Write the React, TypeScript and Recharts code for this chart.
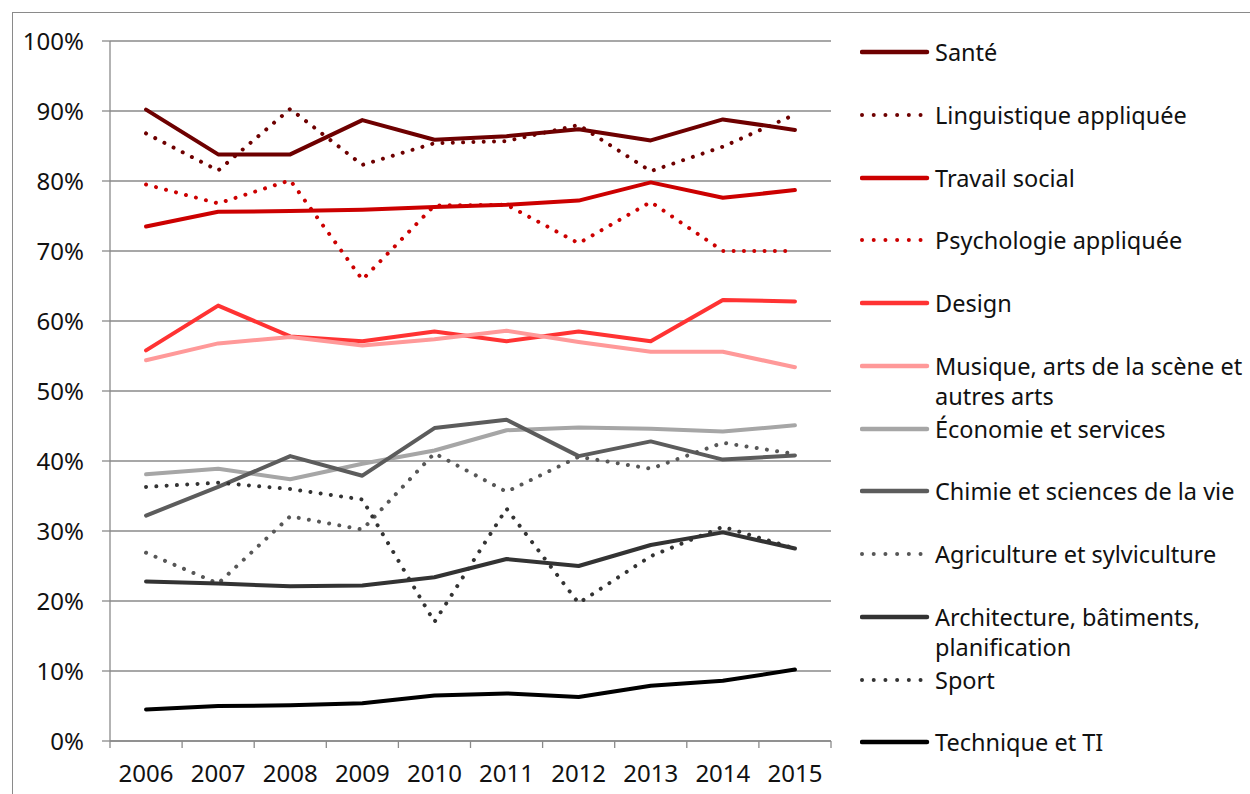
import { LineChart, Line, XAxis, YAxis, CartesianGrid } from 'recharts';

const years = ['2006', '2007', '2008', '2009', '2010', '2011', '2012', '2013', '2014', '2015'];
const yTicks = [0, 10, 20, 30, 40, 50, 60, 70, 80, 90, 100];

const sante = [90.2, 83.8, 83.8, 88.7, 85.9, 86.4, 87.4, 85.8, 88.8, 87.3];
const linguistique = [86.8, 81.5, 90.3, 82.3, 85.4, 85.7, 88.0, 81.4, 84.9, 89.5];
const travailSocial = [73.5, 75.6, 75.7, 75.9, 76.3, 76.6, 77.2, 79.8, 77.6, 78.7];
const psychologie = [79.5, 76.8, 80.1, 65.9, 76.5, 76.6, 71.1, 77.0, 70.0, 70.0];
const design = [55.8, 62.2, 57.8, 57.1, 58.5, 57.1, 58.5, 57.1, 63.0, 62.8];
const musique = [54.4, 56.8, 57.7, 56.5, 57.4, 58.6, 57.0, 55.6, 55.6, 53.4];
const economie = [38.1, 38.9, 37.4, 39.6, 41.5, 44.4, 44.8, 44.6, 44.2, 45.1];
const chimie = [32.2, 36.3, 40.7, 37.9, 44.7, 45.9, 40.7, 42.8, 40.2, 40.8];
const agriculture = [26.9, 22.5, 32.1, 30.2, 41.1, 35.6, 40.6, 38.9, 42.6, 41.0];
const architecture = [22.8, 22.5, 22.1, 22.2, 23.4, 26.0, 25.0, 28.0, 29.8, 27.5];
const sport = [36.3, 36.9, 36.0, 34.5, 17.0, 33.2, 19.7, 26.4, 30.6, 27.5];
const technique = [4.5, 5.0, 5.1, 5.4, 6.5, 6.8, 6.3, 7.9, 8.6, 10.2];

const series = [
  { key: 'sante', label: ['Santé'], color: '#6e0000', dotted: false, values: sante },
  { key: 'linguistique', label: ['Linguistique appliquée'], color: '#6e0000', dotted: true, values: linguistique },
  { key: 'travailSocial', label: ['Travail social'], color: '#cc0000', dotted: false, values: travailSocial },
  { key: 'psychologie', label: ['Psychologie appliquée'], color: '#cc0000', dotted: true, values: psychologie },
  { key: 'design', label: ['Design'], color: '#ff3333', dotted: false, values: design },
  { key: 'musique', label: ['Musique, arts de la scène et', 'autres arts'], color: '#ff9999', dotted: false, values: musique },
  { key: 'economie', label: ['Économie et services'], color: '#a6a6a6', dotted: false, values: economie },
  { key: 'chimie', label: ['Chimie et sciences de la vie'], color: '#5c5c5c', dotted: false, values: chimie },
  { key: 'agriculture', label: ['Agriculture et sylviculture'], color: '#575757', dotted: true, values: agriculture },
  { key: 'architecture', label: ['Architecture, bâtiments,', 'planification'], color: '#333333', dotted: false, values: architecture },
  { key: 'sport', label: ['Sport'], color: '#333333', dotted: true, values: sport },
  { key: 'technique', label: ['Technique et TI'], color: '#000000', dotted: false, values: technique },
];

const data = years.map((year, i) => {
  const row: Record<string, string | number> = { year };
  series.forEach((s) => {
    row[s.key] = s.values[i];
  });
  return row;
});

const FONT = '"Noto Sans", sans-serif';
const GRID = '#8a8a8a';
const TEXT = '#111111';
const W = 1250;
const H = 794;
const MARGIN = { top: 41, right: 419, bottom: 0, left: 0 };
const Y_AXIS_W = 110;
const X_AXIS_H = 53;
const PLOT_BOTTOM = H - MARGIN.bottom - X_AXIS_H;
// half of one year's band, the lines sit in the middle of each band
const BAND_HALF = (W - MARGIN.right - MARGIN.left - Y_AXIS_W) / years.length / 2;

const YearTick = (props: any) => {
  const { x, payload, index } = props;
  return (
    <g>
      <line x1={x - BAND_HALF} x2={x - BAND_HALF} y1={PLOT_BOTTOM} y2={PLOT_BOTTOM + 7} stroke={GRID} strokeWidth={1.3} />
      {index === years.length - 1 && (
        <line x1={x + BAND_HALF} x2={x + BAND_HALF} y1={PLOT_BOTTOM} y2={PLOT_BOTTOM + 7} stroke={GRID} strokeWidth={1.3} />
      )}
      <text x={x} y={PLOT_BOTTOM + 41} textAnchor="middle" fill={TEXT} fontSize={24} fontFamily={FONT}>
        {payload.value}
      </text>
    </g>
  );
};

const LegendBlock = () => (
  <div style={{ position: 'absolute', left: 860, top: 0, fontFamily: FONT, fontSize: 23.5, color: TEXT }}>
    {series.map((s, i) => (
      <div key={s.key} style={{ position: 'absolute', top: 37 + i * 62.75, left: 0, width: 390, lineHeight: '30px' }}>
        <svg width={70} height={30} style={{ position: 'absolute', left: 0, top: 0 }}>
          {s.dotted ? (
            <line x1={2} x2={62} y1={15} y2={15} stroke={s.color} strokeWidth={4} strokeLinecap="round" strokeDasharray="0.01 11.7" />
          ) : (
            <line x1={2} x2={67} y1={15} y2={15} stroke={s.color} strokeWidth={4.5} strokeLinecap="round" />
          )}
        </svg>
        <div style={{ marginLeft: 75, whiteSpace: 'nowrap' }}>
          {s.label.map((l) => (
            <div key={l}>{l}</div>
          ))}
        </div>
      </div>
    ))}
  </div>
);

export default function App() {
  return (
    <div style={{ position: 'absolute', left: 0, top: 0, width: W, height: H, overflow: 'hidden', background: '#fff' }}>
      <div
        style={{
          position: 'absolute',
          left: 12,
          top: 12,
          width: W,
          height: H,
          borderTop: `1.5px solid ${GRID}`,
          borderLeft: `1.5px solid ${GRID}`,
        }}
      />
      <div style={{ position: 'absolute', left: 0, top: 0 }}>
        <LineChart width={W} height={H} data={data} margin={MARGIN}>
          <CartesianGrid vertical={false} stroke={GRID} strokeWidth={1.3} />
          <XAxis
            dataKey="year"
            height={X_AXIS_H}
            interval={0}
            padding={{ left: BAND_HALF, right: BAND_HALF }}
            axisLine={{ stroke: GRID, strokeWidth: 1.3 }}
            tickLine={false}
            tick={<YearTick />}
          />
          <YAxis
            type="number"
            domain={[0, 100]}
            ticks={yTicks}
            width={Y_AXIS_W}
            tickFormatter={(v: number) => `${v}%`}
            axisLine={{ stroke: GRID, strokeWidth: 1.3 }}
            tickLine={{ stroke: GRID, strokeWidth: 1.3 }}
            tickSize={8}
            tickMargin={18}
            tick={{ fill: TEXT, fontSize: 24, fontFamily: FONT }}
          />
          {series.map((s) => (
            <Line
              key={s.key}
              type="linear"
              dataKey={s.key}
              name={s.label.join(' ')}
              stroke={s.color}
              strokeWidth={4}
              strokeLinecap="round"
              strokeLinejoin="round"
              strokeDasharray={s.dotted ? '0.01 10.3' : undefined}
              dot={false}
              activeDot={false}
              isAnimationActive={false}
            />
          ))}
        </LineChart>
      </div>
      <LegendBlock />
    </div>
  );
}
